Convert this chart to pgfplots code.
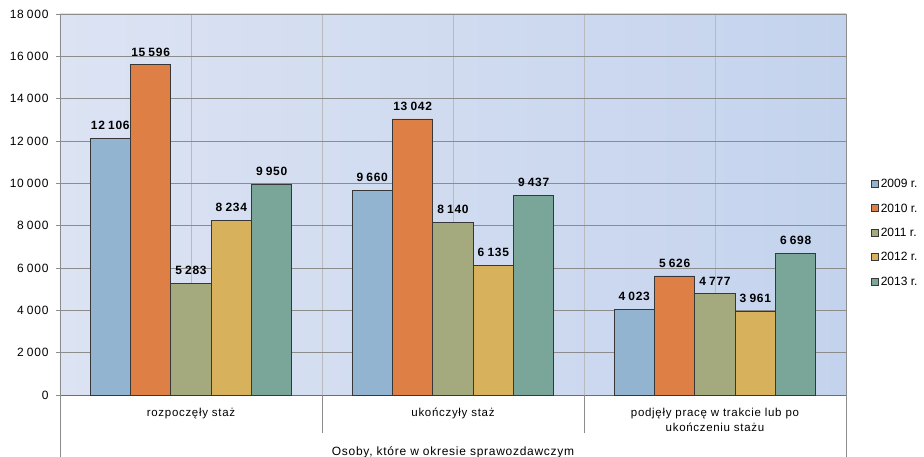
\documentclass[border=0pt]{standalone}
\usepackage{pgfplots}
\pgfplotsset{compat=1.18}
\usepackage{fontspec}
\setmainfont{Liberation Sans}[LetterSpace=6]

\definecolor{c2009}{RGB}{147,180,208}
\definecolor{c2010}{RGB}{222,127,70}
\definecolor{c2011}{RGB}{164,170,126}
\definecolor{c2012}{RGB}{215,177,92}
\definecolor{c2013}{RGB}{122,166,153}
\definecolor{bgA}{RGB}{220,227,243}
\definecolor{bgB}{RGB}{196,211,237}
\definecolor{edge}{RGB}{55,55,55}
\definecolor{gline}{RGB}{140,140,140}

\begin{document}
\begin{tikzpicture}
\path[use as bounding box] (-60pt,-62pt) rectangle (864pt,395pt);
\begin{axis}[
  at={(0pt,0pt)}, anchor=south west,
  scale only axis, width=786pt, height=381pt,
  xmin=-0.5, xmax=2.5, ymin=0, ymax=18000,
  clip=false,
  axis background/.style={left color=bgA, right color=bgB},
  ybar=0pt, bar width=0.154,
  xtick={0,1,2},
  minor xtick={0.5,1.5},
  xticklabels={rozpoczęły staż, ukończyły staż, {podjęły pracę w trakcie lub po\\ukończeniu stażu}},
  xticklabel style={align=center, anchor=north, yshift=-6pt, font=\fontsize{11.5}{14.5}\selectfont},
  xtick style={draw=none},
  minor tick length=0pt,
  xmajorgrids, xminorgrids, ymajorgrids,
  major x grid style={draw={rgb,255:red,185;green,185;blue,190}},
  minor x grid style={draw={rgb,255:red,185;green,185;blue,190}},
  major y grid style={draw=gline, line width=0.7pt},
  ytick distance=2000,
  scaled y ticks=false,
  ytick style={draw=gline, line width=0.7pt},
  tick align=outside, major tick length=4pt,
  yticklabel style={font=\fontsize{12}{13}\selectfont, xshift=-4pt},
  /pgf/number format/assume math mode=true,
  /pgf/number format/1000 sep={\hspace{0.26em}},
  axis x line*=bottom, axis y line*=left,
  x axis line style={draw={rgb,255:red,110;green,110;blue,110}, line width=0.9pt},
  y axis line style={draw=gline, line width=0.7pt},
  xlabel={Osoby, które w okresie sprawozdawczym},
  xlabel style={at={(axis description cs:0.5,0)}, anchor=center, yshift=-57pt, font=\fontsize{12}{13}\selectfont},
  nodes near coords,
  every node near coord/.append style={font=\bfseries\fontsize{12}{13}\selectfont, text=black, yshift=5pt},
  legend style={at={(1.028,0.425)}, anchor=west, draw=none, fill=none,
    font=\fontsize{12}{13}\selectfont\addfontfeature{LetterSpace=0}, row sep=10.5pt, legend cell align=left},
  legend image code/.code={\draw[#1, draw=edge, line width=0.6pt] (0pt,-3pt) rectangle (7pt,4pt);},
  every axis plot/.append style={draw=edge, line width=0.8pt},
]
\addplot[fill=c2009] coordinates {(0,12106) (1,9660) (2,4023)};
\addplot[fill=c2010] coordinates {(0,15596) (1,13042) (2,5626)};
\addplot[fill=c2011] coordinates {(0,5283) (1,8140) (2,4777)};
\addplot[fill=c2012] coordinates {(0,8234) (1,6135) (2,3961)};
\addplot[fill=c2013] coordinates {(0,9950) (1,9437) (2,6698)};
\legend{2009 r., 2010 r., 2011 r., 2012 r., 2013 r.}
\draw[draw=gline, line width=0.7pt] (rel axis cs:0,0) -- ([yshift=-62pt]rel axis cs:0,0);
\draw[draw=gline, line width=0.7pt] (rel axis cs:1,0) -- ([yshift=-62pt]rel axis cs:1,0);
\draw[draw=gline, line width=0.7pt] (rel axis cs:1,0) -- (rel axis cs:1,1);
\draw[draw=gline, line width=0.7pt] (axis cs:0.5,0) -- ([yshift=-38pt]axis cs:0.5,0);
\draw[draw=gline, line width=0.7pt] (axis cs:1.5,0) -- ([yshift=-38pt]axis cs:1.5,0);
\end{axis}
\end{tikzpicture}
\end{document}
